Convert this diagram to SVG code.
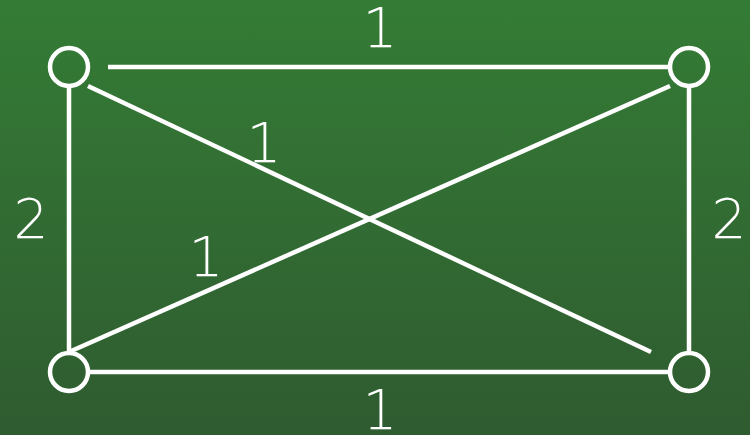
<svg xmlns="http://www.w3.org/2000/svg" width="750" height="435" viewBox="0 0 750 435">
<defs>
<linearGradient id="bg" x1="0" y1="0" x2="0" y2="1">
<stop offset="0" stop-color="#347c35"/>
<stop offset="1" stop-color="#2f5b30"/>
</linearGradient>
<style>
.e{stroke:#fff;stroke-width:4.5;fill:none}
.n{stroke:#fff;stroke-width:4.5;fill:none}
.t{fill:#fff;font-family:"DejaVu Sans",sans-serif;font-weight:200;font-size:55px;text-anchor:middle}
</style>
</defs>
<rect width="750" height="435" fill="url(#bg)"/>
<g id="connectors">
<line class="e" x1="108" y1="67" x2="670" y2="67"/>
<line class="e" x1="69" y1="86" x2="69" y2="352"/>
<line class="e" x1="689" y1="86" x2="689" y2="352"/>
<line class="e" x1="88" y1="372" x2="670" y2="372"/>
<line class="e" x1="88" y1="86" x2="651" y2="352"/>
<line class="e" x1="670" y1="86" x2="69" y2="352"/>
</g>
<g id="n1"><circle class="n" cx="69" cy="67" r="19"/></g>
<g id="n2"><circle class="n" cx="689" cy="67" r="19"/></g>
<g id="n3"><circle class="n" cx="69" cy="372" r="19"/></g>
<g id="n4"><circle class="n" cx="689" cy="372" r="19"/></g>
<g id="labels">
<text class="t" x="380" y="47">1</text>
<text class="t" x="264" y="162">1</text>
<text class="t" x="206" y="276">1</text>
<text class="t" x="380" y="429">1</text>
<text class="t" x="31" y="238">2</text>
<text class="t" x="729" y="238">2</text>
</g>
</svg>
